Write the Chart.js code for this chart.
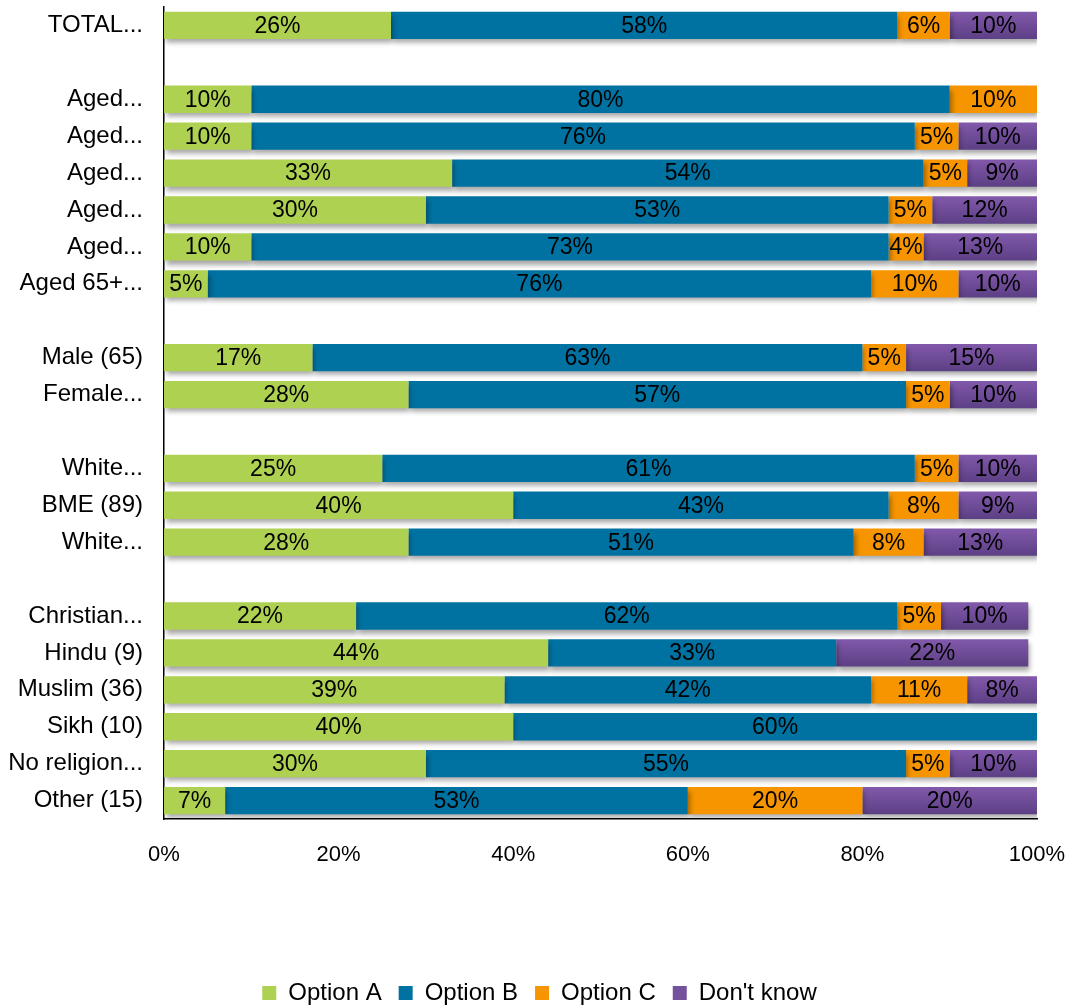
<!DOCTYPE html>
<html lang="en">
<head>
    <meta charset="UTF-8">
    <title>Stacked responses</title>
    <script src="https://cdn.jsdelivr.net/npm/chart.js"></script>
    <style>
        body {
            margin: 0;
            padding: 0;
            background: #fff;
        }
        #chart {
            display: block;
        }
    </style>
</head>
<body>
    <canvas id="chart" width="1069" height="1008"></canvas>

<script>
// groups separated by empty rows
const categories = [
    "TOTAL...", "",
    "Aged...", "Aged...", "Aged...", "Aged...", "Aged...", "Aged 65+...", "",
    "Male (65)", "Female...", "",
    "White...", "BME (89)", "White...", "",
    "Christian...", "Hindu (9)", "Muslim (36)", "Sikh (10)", "No religion...", "Other (15)"
];

const optionA = [26, null, 10, 10, 33, 30, 10, 5, null, 17, 28, null, 25, 40, 28, null, 22, 44, 39, 40, 30, 7];
const optionB = [58, null, 80, 76, 54, 53, 73, 76, null, 63, 57, null, 61, 43, 51, null, 62, 33, 42, 60, 55, 53];
const optionC = [6, null, 10, 5, 5, 5, 4, 10, null, 5, 5, null, 5, 8, 8, null, 5, 0, 11, 0, 5, 20];
const dontKnow = [10, null, 0, 10, 9, 12, 13, 10, null, 15, 10, null, 10, 9, 13, null, 10, 22, 8, 0, 10, 20];

const xTicks = [0, 20, 40, 60, 80, 100];

const FONT = "'Liberation Sans', Arial, sans-serif";

// purple segments fade from light at the top to dark at the bottom
function purpleFill(ctx) {
    const chart = ctx.chart;
    const y = chart.scales.y;
    if (!y || ctx.dataIndex === undefined) return "#73519c";
    const mid = y.getPixelForValue(ctx.dataIndex);
    if (!Number.isFinite(mid)) return "#73519c";
    const half = 14;
    const g = chart.ctx.createLinearGradient(0, mid - half, 0, mid + half);
    g.addColorStop(0, "#8259ab");
    g.addColorStop(1, "#5c3f84");
    return g;
}

// soft shadow under the bars
const barShadow = {
    id: "barShadow",
    beforeDatasetsDraw(chart) {
        const ctx = chart.ctx;
        ctx.save();
        ctx.shadowColor = "rgba(0,0,0,0.35)";
        ctx.shadowBlur = 5;
        ctx.shadowOffsetX = 2;
        ctx.shadowOffsetY = 4;
    },
    afterDatasetsDraw(chart) {
        chart.ctx.restore();
    }
};

// value text centred in the visible part of each segment
const segmentLabels = {
    id: "segmentLabels",
    afterDatasetsDraw(chart) {
        const ctx = chart.ctx;
        const area = chart.chartArea;
        ctx.save();
        ctx.font = "23px " + FONT;
        ctx.fillStyle = "#000";
        ctx.textAlign = "center";
        ctx.textBaseline = "middle";
        chart.data.datasets.forEach((ds, i) => {
            const meta = chart.getDatasetMeta(i);
            meta.data.forEach((bar, j) => {
                const v = ds.data[j];
                if (!v) return;
                const left = Math.max(Math.min(bar.x, bar.base), area.left);
                const right = Math.min(Math.max(bar.x, bar.base), area.right);
                ctx.fillText(v + "%", (left + right) / 2, bar.y + 1);
            });
        });
        ctx.restore();
    }
};

// keep the legend low and centred under the plot rather than the canvas
const legendPlacement = {
    id: "legendPlacement",
    beforeInit(chart) {
        const legend = chart.legend;
        const fit = legend.fit;
        legend.fit = function () {
            fit.call(this);
            this.height = 44;
        };
    },
    afterLayout(chart) {
        chart.legend.left += 21;
        chart.legend.right += 21;
    }
};

new Chart(document.getElementById("chart"), {
    type: "bar",
    data: {
        labels: categories,
        datasets: [
            { label: "Option A", data: optionA, backgroundColor: "#afd152" },
            { label: "Option B", data: optionB, backgroundColor: "#0072a1" },
            { label: "Option C", data: optionC, backgroundColor: "#f79500" },
            { label: "Don't know", data: dontKnow, backgroundColor: purpleFill }
        ]
    },
    options: {
        indexAxis: "y",
        responsive: false,
        animation: false,
        barPercentage: 0.74,
        categoryPercentage: 1,
        layout: {
            padding: { top: 7, right: 32, left: 0, bottom: 0 }
        },
        scales: {
            x: {
                stacked: true,
                min: 0,
                max: 100,
                afterBuildTicks(scale) {
                    scale.ticks = xTicks.map(v => ({ value: v }));
                },
                afterFit(scale) {
                    scale.height = 145;
                    scale.paddingLeft = 0;
                    scale.paddingRight = 0;
                },
                grid: { display: false, drawTicks: false },
                border: { display: true, color: "#000", width: 1.5 },
                ticks: {
                    padding: 23,
                    color: "#000",
                    font: { family: FONT, size: 22 },
                    maxRotation: 0,
                    callback: v => v + "%"
                }
            },
            y: {
                stacked: true,
                afterFit(scale) {
                    scale.width = 164;
                    scale.paddingTop = 0;
                    scale.paddingBottom = 0;
                },
                grid: { display: false, drawTicks: false },
                border: { display: true, color: "#000", width: 1.5 },
                ticks: {
                    padding: 21,
                    color: "#000",
                    autoSkip: false,
                    font: { family: FONT, size: 24 }
                }
            }
        },
        plugins: {
            legend: {
                position: "bottom",
                labels: {
                    color: "#000",
                    boxWidth: 14,
                    boxHeight: 14,
                    padding: 17,
                    font: { family: FONT, size: 24 },
                    generateLabels(chart) {
                        const items = Chart.defaults.plugins.legend.labels.generateLabels(chart);
                        items[3].fillStyle = "#73519c";
                        return items;
                    }
                }
            },
            tooltip: { enabled: false }
        }
    },
    plugins: [barShadow, segmentLabels, legendPlacement]
});
</script>
</body>
</html>
